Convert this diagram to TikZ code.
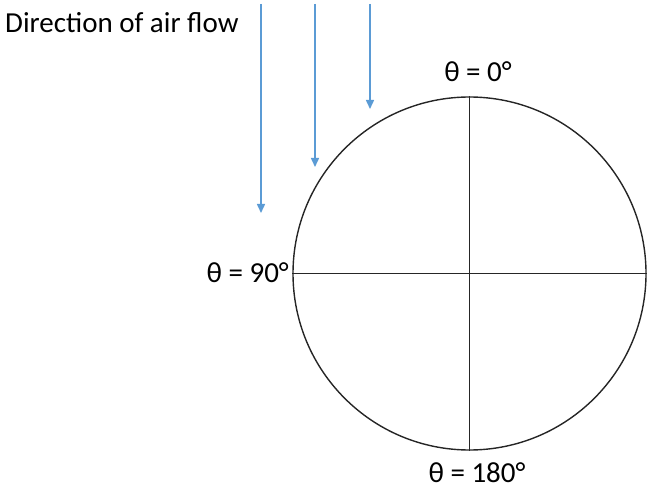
\documentclass[tikz,border=0pt]{standalone}
\usepackage{fontspec}
\setmainfont{Carlito}
\usetikzlibrary{arrows.meta}
\definecolor{flowblue}{RGB}{91,155,213}
\begin{document}
\begin{tikzpicture}[x=1pt,y=-1pt,
  flow/.style={flowblue,line width=1.5pt,-{Triangle[length=9pt,width=8pt]}},
  lbl/.style={inner sep=0pt,font=\fontsize{29}{34}\selectfont},
  geo/.style={black!85,line width=1.4pt}]
\useasboundingbox (0,0) rectangle (648,489);
\coordinate (c) at (469.5,273.5);
\node[geo,draw,circle,minimum size=353pt,inner sep=0pt] (circ) at (c) {};
\draw[geo] (circ.north) -- (circ.south);
\draw[geo] (circ.west) -- (circ.east);
\node[lbl,anchor=base west] (title) at (5,33) {Direction of air flow};
\node[lbl,anchor=base] (t0) at (478,82) {θ = 0°};
\node[lbl,anchor=base east] (t90) at (289,282) {θ = 90°};
\node[lbl,anchor=base] (t180) at (477,482) {θ = 180°};
\coordinate (a1s) at (261,4); \coordinate (a1e) at (261,213);
\coordinate (a2s) at (315,4); \coordinate (a2e) at (315,167);
\coordinate (a3s) at (370,4); \coordinate (a3e) at (370,109);
\draw[flow] (a1s) -- (a1e);
\draw[flow] (a2s) -- (a2e);
\draw[flow] (a3s) -- (a3e);
\end{tikzpicture}
\end{document}
